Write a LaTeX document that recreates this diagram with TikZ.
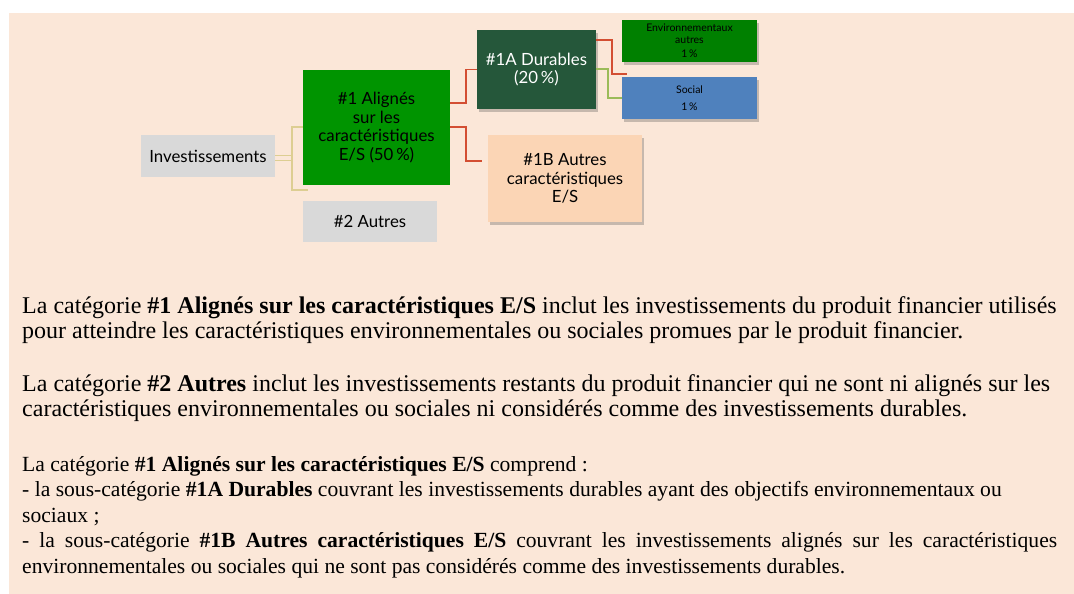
\documentclass[tikz,border=0pt]{standalone}
\usepackage{fontspec}
\newfontfamily\diagfont{Lato}
\newfontfamily\bodyfont{Liberation Serif}
\usetikzlibrary{shadows}

\definecolor{peach}{RGB}{251,231,216}
\definecolor{boxgray}{RGB}{217,217,217}
\definecolor{alignedgreen}{RGB}{0,148,0}
\definecolor{durablegreen}{RGB}{37,87,58}
\definecolor{envgreen}{RGB}{0,128,0}
\definecolor{socialblue}{RGB}{79,129,189}
\definecolor{otherpeach}{RGB}{251,213,181}
\definecolor{linered}{RGB}{211,78,50}
\definecolor{lineyellow}{RGB}{221,206,146}
\definecolor{linegreen}{RGB}{155,187,89}

\begin{document}
\begin{tikzpicture}[x=1pt,y=1pt,yscale=-1,
  catbox/.style={inner sep=0pt, align=center, font=\diagfont\fontsize{16.8}{18.5}\selectfont},
  smallbox/.style={inner sep=0pt, align=center, font=\diagfont\fontsize{10.5}{11.5}\selectfont},
  shadowed/.style={drop shadow={shadow xshift=2pt, shadow yshift=-3pt, opacity=0.3, fill=black!70}},
  redline/.style={draw=linered, line width=1.3pt},
  yellowline/.style={draw=lineyellow, line width=1.3pt},
  greenline/.style={draw=linegreen, line width=1.3pt},
  bodytext/.style={anchor=west, inner sep=0pt, align=left, font=\bodyfont\fontsize{24}{25}\selectfont},
  smalltext/.style={anchor=west, inner sep=0pt, align=left, font=\bodyfont\fontsize{21.6}{25.5}\selectfont}]
\useasboundingbox (0,0) rectangle (1074,594);

%Shape: Rectangle (background)
\fill [peach] (9,13) rectangle (1074,594);

% Boxes of the tree
\node [catbox, fill=boxgray, minimum width=134, minimum height=42] (inv) at (208,156) {Investissements};
\node [catbox, fill=alignedgreen, minimum width=147, minimum height=115] (aligned) at (376.5,127.5) {\#1 Alignés\\sur les\\caractéristiques\\E/S (50\,\%)};
\node [catbox, fill=boxgray, minimum width=134, minimum height=41] (others) at (370,221.5) {\#2 Autres};
\node [catbox, shadowed, fill=durablegreen, text=white, minimum width=119, minimum height=79] (durable) at (536.5,69.5) {\#1A Durables\\(20\,\%)};
\node [catbox, shadowed, fill=otherpeach, minimum width=154, minimum height=87] (otherchar) at (565,178.5) {\#1B Autres\\caractéristiques\\E/S};
\node [smallbox, shadowed, fill=envgreen, minimum width=135, minimum height=42] (env) at (689.5,41) {Environnementaux\\autres\\[3pt]1\,\%};
\node [smallbox, shadowed, fill=socialblue, minimum width=135, minimum height=42] (social) at (689.5,98) {Social\\[5pt]1\,\%};

% Free ends of connectors
\coordinate (fork) at (292,156);
\coordinate (othersend) at (308,190);
\coordinate (otherend) at (482,161);
\coordinate (envend) at (627,74);

%Connectors
\draw [yellowline] (inv.east |- 0,155.5) -- (fork |- 0,155.5);
\draw [yellowline] (inv.east |- 0,160.5) -- (fork |- 0,160.5);
\draw [yellowline] (aligned.west |- 0,127) -| (fork |- othersend) -- (othersend);
\draw [redline] (aligned.east |- 0,103) -- (466,103) |- (durable.west);
\draw [redline] (aligned.east |- 0,127) -- (466,127) |- (otherend);
\draw [redline] (durable.east |- 0,40) -- (612,40) |- (envend);
\draw [greenline] (durable.east |- 0,69) -- (608,69) |- (social.west);

% Text Node
\node [bodytext] (para1) at (22,320) {La catégorie \textbf{\#1 Alignés sur les caractéristiques E/S} inclut les investissements du produit financier utilisés\\pour atteindre les caractéristiques environnementales ou sociales promues par le produit financier.};
% Text Node
\node [bodytext] (para2) at (22,398) {La catégorie \textbf{\#2 Autres} inclut les investissements restants du produit financier qui ne sont ni alignés sur les\\caractéristiques environnementales ou sociales ni considérés comme des investissements durables.};
% Text Node
\node [smalltext] (para3) at (22,517) {La catégorie \textbf{\#1 Alignés sur les caractéristiques E/S} comprend :\\- la sous-catégorie \textbf{\#1A Durables} couvrant les investissements durables ayant des objectifs environnementaux ou\\sociaux ;\\\makebox[1035pt][s]{- la sous-catégorie \textbf{\#1B Autres caractéristiques E/S} couvrant les investissements alignés sur les caractéristiques}\\environnementales ou sociales qui ne sont pas considérés comme des investissements durables.};

\end{tikzpicture}
\end{document}
